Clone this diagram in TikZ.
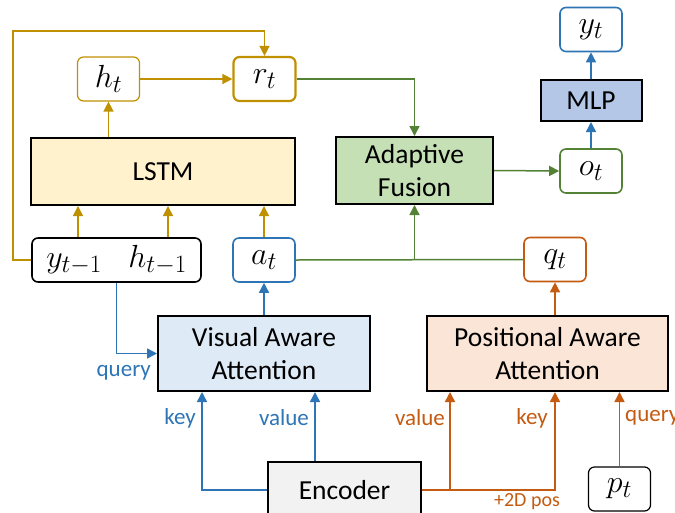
\documentclass[tikz,border=0pt]{standalone}
\usepackage{fix-cm}
\usepackage{fontspec}
\setmainfont{Carlito}
\usetikzlibrary{arrows.meta}
\definecolor{cgold}{RGB}{191,144,0}
\definecolor{cblue}{RGB}{46,117,182}
\definecolor{cgreen}{RGB}{84,130,53}
\definecolor{corange}{RGB}{197,90,17}
\definecolor{flstm}{RGB}{255,242,204}
\definecolor{faf}{RGB}{197,224,180}
\definecolor{fmlp}{RGB}{180,199,231}
\definecolor{fvaa}{RGB}{222,235,247}
\definecolor{fpaa}{RGB}{251,229,214}
\definecolor{fenc}{RGB}{242,242,242}
\DeclareMathSizes{32}{32}{25}{20}
\tikzset{
  var/.style={draw, rounded corners=6pt, minimum width=62pt, minimum height=44pt, inner sep=0pt, line width=1.6pt, fill=white, font=\fontsize{32}{36}\selectfont},
  blk/.style={draw=black, line width=2pt, inner sep=0pt, align=center, font=\fontsize{27.5}{33}\selectfont},
  con/.style={line width=1.5pt, -{Triangle[length=10pt,width=10pt]}},
  lin/.style={line width=1.5pt},
  lbl/.style={font=\fontsize{23}{26}\selectfont, inner sep=0pt}
}
\begin{document}
\begin{tikzpicture}[x=1pt,y=-1pt]
\useasboundingbox (0,0) rectangle (675,512);
% boxes
\node[var, draw=cblue] (yt) at (591,29.5) {$y_t$};
\node[blk, fill=fmlp, minimum width=101pt, minimum height=41pt] (mlp) at (591,100.5) {MLP};
\node[var, draw=cgreen] (ot) at (591,171) {$o_t$};
\node[blk, fill=faf, minimum width=157pt, minimum height=67pt] (af) at (414.5,170.5) {Adaptive\\Fusion};
\node[var, draw=cgold, line width=1.2pt] (ht) at (108.5,79) {$h_t$};
\node[var, draw=cgold, line width=2.2pt] (rt) at (264.5,79) {$r_t$};
\node[blk, fill=flstm, minimum width=264pt, minimum height=67pt] (lstm) at (163,171.5) {LSTM};
\node[var, draw=black, minimum width=169pt] (yh) at (116.5,260) {$y_{t-1}\;\;\; h_{t-1}$};
\node[var, draw=cblue] (at) at (264,260) {$a_t$};
\node[var, draw=corange] (qt) at (555,259.5) {$q_t$};
\node[blk, fill=fvaa, minimum width=212pt, minimum height=75pt] (vaa) at (264,353.5) {Visual Aware\\Attention};
\node[blk, fill=fpaa, minimum width=241pt, minimum height=75pt] (paa) at (547.5,353.5) {Positional Aware\\Attention};
\node[blk, fill=fenc, minimum width=153pt, minimum height=56pt] (enc) at (344.5,490) {Encoder};
\node[var, draw=black, line width=1.2pt] (pt) at (619.5,489) {$p_t$};
\coordinate (loop) at (13,31);
% gold connectors
\draw[con, cgold] (yh.west) -| (loop) -| (rt.north);
\draw[con, cgold] (ht.east) -- (rt.west);
\draw[con, cgold] (lstm.north -| ht.south) -- (ht.south);
\draw[con, cgold] (78,0 |- yh.north) -- (78,0 |- lstm.south);
\draw[con, cgold] (168,0 |- yh.north) -- (168,0 |- lstm.south);
\draw[con, cgold] (at.north) -- (at.north |- lstm.south);
% green connectors
\draw[con, cgreen] (rt.east) -| (af.north);
\draw[lin, cgreen] (at.east) -- (qt.west);
\draw[con, cgreen] (af.south |- at.east) -- (af.south);
\draw[con, cgreen] (af.east) -- (ot.west);
% blue connectors
\draw[con, cblue] (ot.north) -- (mlp.south);
\draw[con, cblue] (mlp.north) -- (yt.south);
\draw[con, cblue] (yh.south) |- (vaa.west);
\draw[con, cblue] (vaa.north) -- (at.south);
\draw[con, cblue] (enc.west) -| (vaa.south -| 202,0);
\draw[con, cblue] (315,0 |- enc.north) -- (315,0 |- vaa.south);
% orange connectors
\draw[con, corange] (enc.east) -| (paa.south -| qt.south);
\draw[con, corange] (450,0 |- enc.east) -- (450,0 |- paa.south);
\draw[con, corange] (paa.north -| qt.south) -- (qt.south);
\draw[con, corange] (pt.north) -- (pt.north |- paa.south);
% labels
\node[lbl, text=cblue, anchor=east] (lq) at (151,373) {query};
\node[lbl, text=cblue] (lk) at (180,418) {key};
\node[lbl, text=cblue] (lv) at (284,418) {value};
\node[lbl, text=corange] (ov) at (420,418) {value};
\node[lbl, text=corange] (ok) at (532,418) {key};
\node[lbl, text=corange, anchor=west] (oq) at (625,418) {query};
\node[lbl, text=corange, font=\fontsize{20}{22}\selectfont] (op) at (527,502) {+2D pos};
\end{tikzpicture}
\end{document}
